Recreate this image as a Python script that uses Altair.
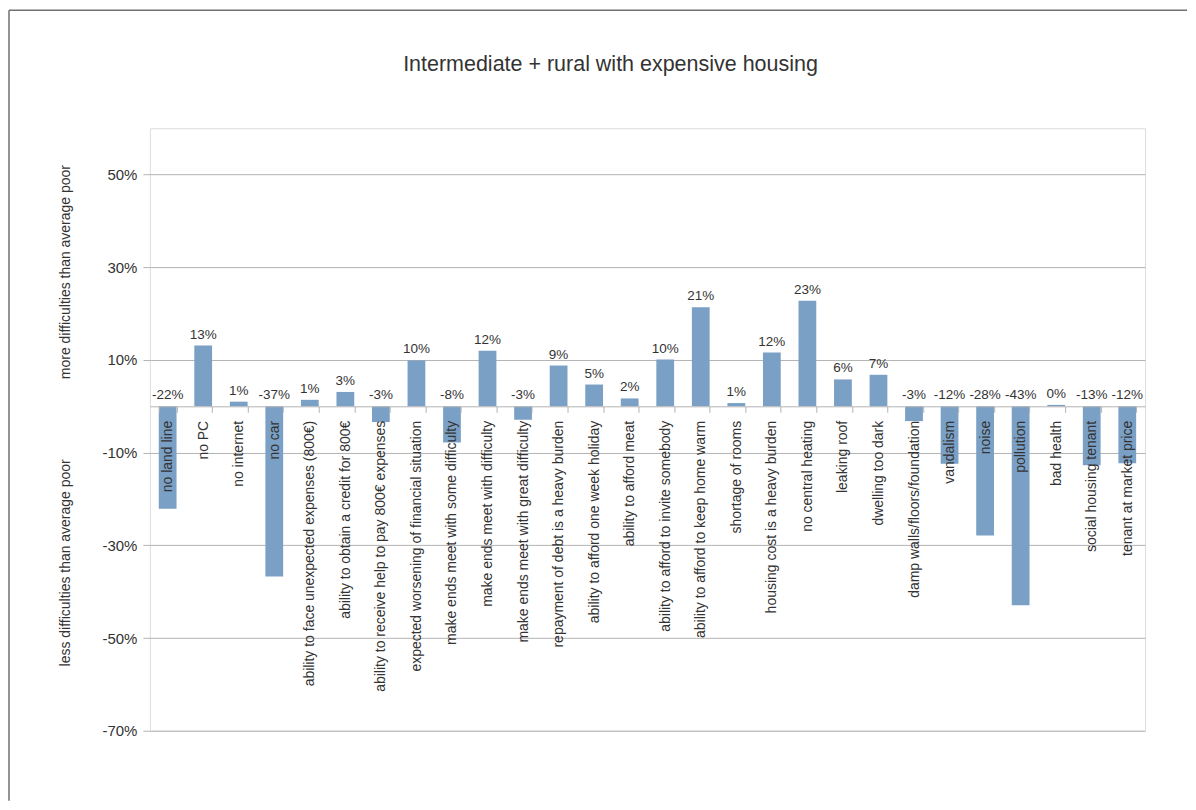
import altair as alt
import pandas as pd

categories = [
    "no land line", "no PC", "no internet", "no car",
    "ability to face unexpected expenses (800€)",
    "ability to obtain a credit for 800€",
    "ability to receive help to pay 800€ expenses",
    "expected worsening of financial situation",
    "make ends meet with some difficulty",
    "make ends meet with difficulty",
    "make ends meet with great difficulty",
    "repayment of debt is a heavy burden",
    "ability to afford one week holiday",
    "ability to afford meat",
    "ability to afford to invite somebody",
    "ability to afford to keep home warm",
    "shortage of rooms",
    "housing cost is a heavy burden",
    "no central heating",
    "leaking roof",
    "dwelling too dark",
    "damp walls/floors/foundation",
    "vandalism", "noise", "pollution", "bad health",
    "social housing tenant", "tenant at market price",
]
values = [-22.1, 13.1, 1.0, -36.7, 1.4, 3.1, -3.4, 9.9, -7.8, 12.0, -2.9, 8.8,
          4.7, 1.7, 10.1, 21.4, 0.7, 11.6, 22.8, 5.8, 6.8, -3.2, -12.4, -27.9,
          -42.9, 0.3, -12.7, -12.3]
value_labels = ["-22%", "13%", "1%", "-37%", "1%", "3%", "-3%", "10%", "-8%",
                "12%", "-3%", "9%", "5%", "2%", "10%", "21%", "1%", "12%", "23%",
                "6%", "7%", "-3%", "-12%", "-28%", "-43%", "0%", "-13%", "-12%"]
y_ticks = [-70, -50, -30, -10, 10, 30, 50]
y_domain = [-70, 60]

TITLE = "Intermediate + rural with expensive housing"
Y_TOP_TITLE = "more difficulties than average poor"
Y_BOTTOM_TITLE = "less difficulties than average poor"

W, H = 996, 603
FONT = "Liberation Sans"
TXT = "#333333"
GRID = "#b3b3b3"
BAR = "#7aa0c5"

df = pd.DataFrame({"category": categories, "value": values, "label": value_labels})

# x axis sits on the zero line
zero_offset = -H * (0 - y_domain[0]) / (y_domain[1] - y_domain[0])

x_enc = alt.X(
    "category:N", sort=categories,
    scale=alt.Scale(paddingInner=0.5, paddingOuter=0.25),
    axis=alt.Axis(
        title=None, orient="bottom", offset=zero_offset,
        domainColor=GRID, domainWidth=1, tickColor=GRID, tickSize=6,
        tickBand="extent", labelAngle=270, labelAlign="right",
        labelBaseline="middle", labelPadding=8, labelFontSize=14,
        labelColor=TXT, labelFont=FONT, labelLimit=500, grid=False, zindex=1,
    ),
)
y_scale = alt.Scale(domain=y_domain, nice=False, zero=False)
y_axis = alt.Axis(
    title=None, values=y_ticks, labelExpr="datum.value + '%'", grid=True,
    gridColor=GRID, domain=False, tickColor=GRID, tickSize=7, labelPadding=6,
    labelFontSize=15, labelColor=TXT, labelFont=FONT,
)

bars = alt.Chart(df).mark_bar(color=BAR).encode(
    x=x_enc,
    y=alt.Y("value:Q", scale=y_scale, axis=y_axis),
)

texts = alt.Chart(df).transform_calculate(
    lab_y="max(datum.value, 0)"
).mark_text(
    dy=-7, baseline="alphabetic", fontSize=13.5, color=TXT, font=FONT
).encode(
    x=alt.X("category:N", sort=categories),
    y=alt.Y("lab_y:Q", scale=y_scale),
    text="label:N",
)

one = pd.DataFrame({"k": [0]})
title_mark = alt.Chart(one).mark_text(
    align="center", baseline="alphabetic", fontSize=21.5, color=TXT, font=FONT
).encode(x=alt.value(461), y=alt.value(-57), text=alt.value(TITLE))
ytitle_top = alt.Chart(one).mark_text(
    angle=270, align="center", baseline="middle", fontSize=14, color=TXT, font=FONT
).encode(x=alt.value(-84), y=alt.value(144), text=alt.value(Y_TOP_TITLE))
ytitle_bottom = alt.Chart(one).mark_text(
    angle=270, align="center", baseline="middle", fontSize=14, color=TXT, font=FONT
).encode(x=alt.value(-84), y=alt.value(435), text=alt.value(Y_BOTTOM_TITLE))

frame_left = alt.Chart(one).mark_rule(color="#707070", strokeWidth=1.5).encode(
    x=alt.value(-141), y=alt.value(-118), y2=alt.value(673))
frame_top = alt.Chart(one).mark_rule(color="#707070", strokeWidth=1.5).encode(
    x=alt.value(-141), x2=alt.value(1038), y=alt.value(-118))

chart = alt.layer(
    bars, texts, title_mark, ytitle_top, ytitle_bottom, frame_left, frame_top
).properties(
    width=W, height=H,
    padding={"left": 0, "top": 1, "right": 0, "bottom": 0},
).configure_view(stroke=GRID, strokeWidth=1.5).configure(font=FONT)

chart.save("out.html", embed_options={"renderer": "svg", "actions": False})
